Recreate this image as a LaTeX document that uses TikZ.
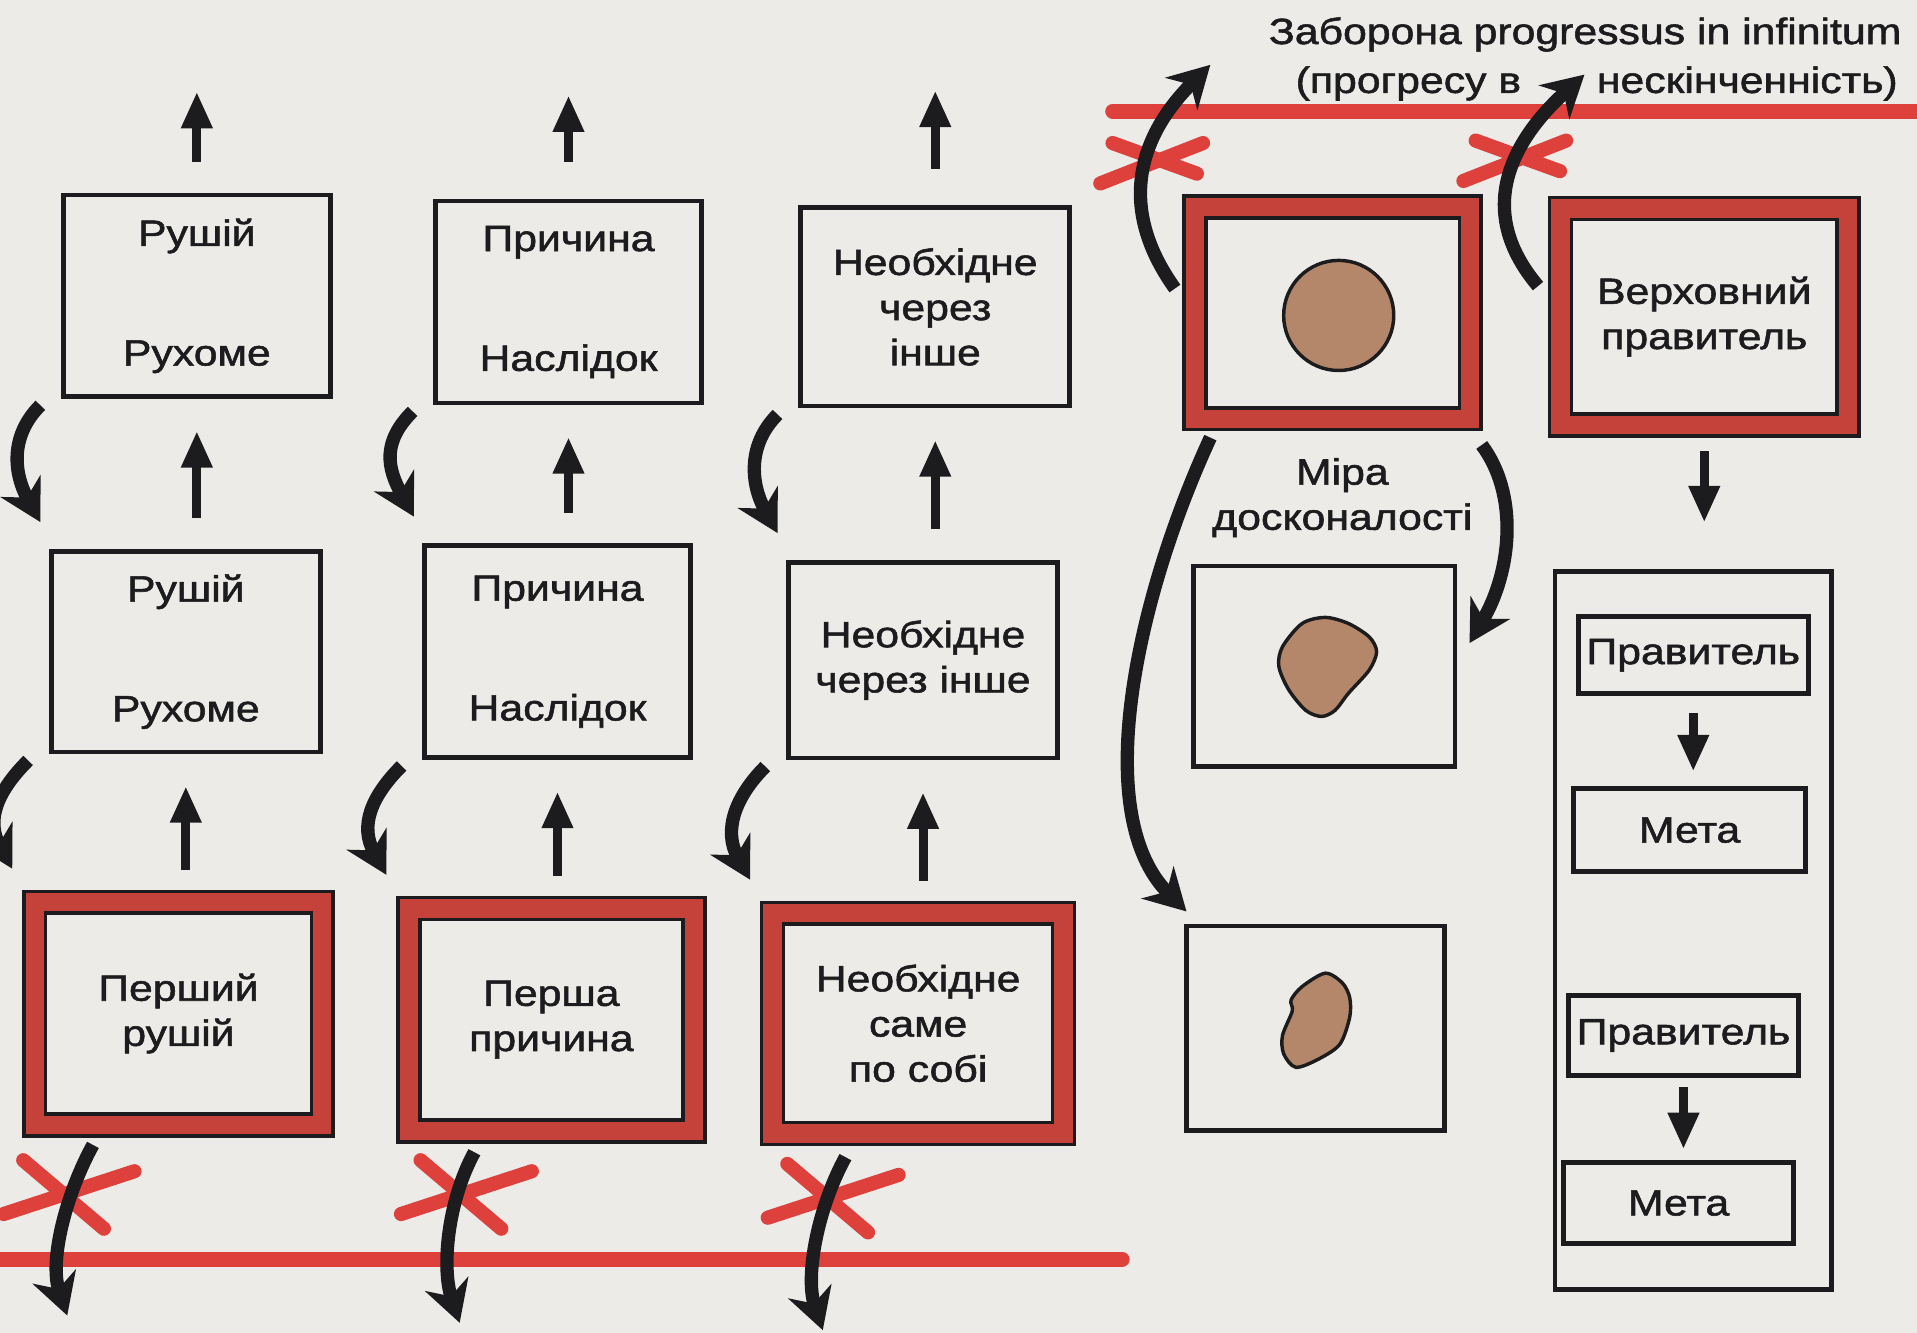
\documentclass[tikz,border=0pt]{standalone}
\usepackage{fontspec}
\setmainfont{Liberation Sans}[FakeStretch=1.17, FakeBold=1.5]
\usetikzlibrary{arrows.meta,calc}
\definecolor{paper}{RGB}{236,235,232}
\definecolor{banred}{RGB}{222,64,60}
\definecolor{framered}{RGB}{196,66,58}
\definecolor{stone}{RGB}{180,135,106}
\definecolor{ink}{RGB}{28,28,30}

\begin{document}
\begin{tikzpicture}[x=0.01cm, y=-0.01cm, >=latex,
	every node/.style={font=\fontsize{8.5}{10.5}\selectfont, text=ink},
	box/.style={draw=ink, line width=1.1pt, inner sep=0pt, align=center},
	dblbox/.style={box, line width=0.8pt, double=framered, double distance=4.3pt},
	uparr/.style={ink, line width=2.1pt, -{Triangle[length=8.5pt,width=6.8pt]}},
	bentarr/.style={ink, line width=3.1pt, -{Stealth[length=9.5pt,width=10.5pt,inset=3pt]}},
	barline/.style={banred, line width=3.4pt, line cap=round},
	stonefill/.style={draw=ink, line width=0.8pt, fill=stone},
	banx/.pic={\draw [banred, line width=3.3pt, line cap=round] (-36,-28) -- (30,28) (-52,16) -- (55,-19);},
	banxflat/.pic={\draw [banred, line width=3.3pt, line cap=round] (-32,-16) -- (37,9) (-42,17) -- (42,-16);}]
		\fill [paper] (0,0) rectangle (1568,1090);
		\useasboundingbox (0,0) rectangle (1568,1090);
		%1
		\node [box, minimum width=2.18cm, minimum height=1.65cm] (A1) at (161,242) {Рушій\\[0.61cm]Рухоме};
		\node [box, minimum width=2.20cm, minimum height=1.64cm] (A2) at (152,533) {Рушій\\[0.61cm]Рухоме};
		\node [dblbox, minimum width=2.35cm, minimum height=1.82cm] (A3) at (146,829) {Перший\\рушій};
		%2
		\node [box, minimum width=2.17cm, minimum height=1.65cm] (B1) at (465,247) {Причина\\[0.61cm]Наслідок};
		\node [box, minimum width=2.17cm, minimum height=1.73cm] (B2) at (456,533) {Причина\\[0.61cm]Наслідок};
		\node [dblbox, minimum width=2.33cm, minimum height=1.82cm] (B3) at (451,834) {Перша\\причина};
		%3
		\node [box, minimum width=2.20cm, minimum height=1.62cm] (C1) at (765,251) {Необхідне\\через\\інше};
		\node [box, minimum width=2.20cm, minimum height=1.60cm] (C2) at (755,540) {Необхідне\\через інше};
		\node [dblbox, minimum width=2.38cm, minimum height=1.80cm] (C3) at (751,837) {Необхідне\\саме\\по собі};
		%4
		\node [dblbox, minimum width=2.25cm, minimum height=1.73cm] (D1) at (1090,256) {};
		\node [circle, stonefill, minimum size=0.9cm, inner sep=0pt] (S1) at (1095,258) {};
		\node [align=center, inner sep=0pt] (M) at (1098,407) {Міра\\досконалості};
		\node [box, minimum width=2.14cm, minimum height=1.64cm] (D2) at (1083,545) {};
		\node [box, minimum width=2.11cm, minimum height=1.67cm] (D3) at (1076,841) {};
		\draw [stonefill, shift={(D2.center)}] plot [smooth cycle] coordinates {(-34,-16) (-18,-35) (1,-40) (20,-35) (37,-24) (43,-12) (37,3) (20,22) (9,36) (-2,41) (-15,36) (-29,19) (-37,0)};
		\draw [stonefill, shift={(D3.center)}] plot [smooth cycle] coordinates {(8,-45) (22,-37) (28,-25) (28,-9) (20,13) (3,25) (-16,32) (-26,21) (-27,6) (-19,-14) (-20,-23) (-11,-34)};
		%5
		\node [dblbox, minimum width=2.35cm, minimum height=1.77cm] (E1) at (1394,259) {Верховний\\правитель};
		\node [box, minimum width=2.26cm, minimum height=5.87cm] (F) at (1385,761) {};
		\node [box, minimum width=1.88cm, minimum height=0.63cm] (F1) at (1385,536) {Правитель};
		\node [box, minimum width=1.90cm, minimum height=0.68cm] (F2) at (1382,679) {Мета};
		\node [box, minimum width=1.88cm, minimum height=0.65cm] (F3) at (1377,847) {Правитель};
		\node [box, minimum width=1.88cm, minimum height=0.66cm] (F4) at (1373,984) {Мета};
		%Заборона
		\node [anchor=base east, inner sep=0pt] (T1) at (1556,36) {Заборона progressus in infinitum};
		\node [anchor=base east, inner sep=0pt] (T2) at (1553,76) {(прогресу в\hspace{0.62cm}нескінченність)};
		\draw [barline] (910,91) -- (1568,91);
		\draw [barline] (0,1030) -- (918,1030);
		\pic at (55,977) {banx};
		\pic at (380,977) {banx};
		\pic at (680,980) {banx};
		\pic at (942,133) {banxflat};
		\pic at (1239,131) {banxflat};
		%up
		\coordinate (A0) at (165,75);
		\coordinate (B0) at (468,78);
		\coordinate (C0) at (770,74);
		\draw [uparr, shorten <=0.25cm] (A1.north) -- (A1.north |- A0);
		\draw [uparr, shorten <=0.3cm] (B1.north) -- (B1.north |- B0);
		\draw [uparr, shorten <=0.3cm] (C1.north) -- (C1.north |- C0);
		\draw [uparr, shorten <=0.25cm, shorten >=0.26cm] (A1.south |- A2.north) -- (A1.south);
		\draw [uparr, shorten <=0.25cm, shorten >=0.26cm] (A2.south |- A3.north) -- (A2.south);
		\draw [uparr, shorten <=0.25cm, shorten >=0.26cm] (B1.south |- B2.north) -- (B1.south);
		\draw [uparr, shorten <=0.25cm, shorten >=0.26cm] (B2.south |- B3.north) -- (B2.south);
		\draw [uparr, shorten <=0.25cm, shorten >=0.26cm] (C1.south |- C2.north) -- (C1.south);
		\draw [uparr, shorten <=0.25cm, shorten >=0.26cm] (C2.south |- C3.north) -- (C2.south);
		%bent
		\draw [bentarr] ($(A1.south west)+(-17,5)$) .. controls +(-25,25) and +(-22,-40) .. ($(A2.north west)+(-7,-22)$);
		\draw [bentarr] ($(A2.south west)+(-17,5)$) .. controls +(-25,25) and +(-22,-40) .. ($(A3.north west)+(-17,-26)$);
		\draw [bentarr] ($(B1.south west)+(-17,5)$) .. controls +(-25,25) and +(-22,-40) .. ($(B2.north west)+(-7,-22)$);
		\draw [bentarr] ($(B2.south west)+(-17,5)$) .. controls +(-25,25) and +(-22,-40) .. ($(B3.north west)+(-17,-26)$);
		\draw [bentarr] ($(C1.south west)+(-17,5)$) .. controls +(-25,25) and +(-22,-40) .. ($(C2.north west)+(-7,-22)$);
		\draw [bentarr] ($(C2.south west)+(-17,5)$) .. controls +(-25,25) and +(-22,-40) .. ($(C3.north west)+(-17,-26)$);
		%down
		\coordinate (A4) at (55,1076);
		\coordinate (B4) at (376,1082);
		\coordinate (C4) at (673,1088);
		\draw [bentarr] ($(A3.south west)+(49,15)$) .. controls +(-22,40) and +(-15,-45) .. (A4);
		\draw [bentarr] ($(B3.south west)+(55,16)$) .. controls +(-22,40) and +(-15,-45) .. (B4);
		\draw [bentarr] ($(C3.south west)+(61,18)$) .. controls +(-22,40) and +(-15,-45) .. (C4);
		%right
		\coordinate (D0) at (990,53);
		\coordinate (E0) at (1296,61);
		\draw [bentarr] ($(D1.west)+(-15,-20)$) .. controls +(-50,-70) and +(-55,55) .. (D0);
		\draw [bentarr] ($(E1.west)+(-17,-25)$) .. controls +(-55,-65) and +(-55,50) .. (E0);
		\draw [bentarr] ($(D1.south west)+(14,14)$) .. controls +(-60,130) and +(-80,-80) .. ($(D3.north west)+(2,-10)$);
		\draw [bentarr] ($(D1.south east)+(8,20)$) .. controls +(30,40) and +(35,-60) .. ($(D2.east)+(10,-19)$);
		\draw [uparr, shorten <=0.2cm, shorten >=0.38cm] (E1.south) -- (E1.south |- F.north);
		\draw [uparr, shorten <=0.14cm, shorten >=0.12cm] (F1.south) -- (F1.south |- F2.north);
		\draw [uparr, shorten <=0.08cm, shorten >=0.09cm] (F3.south) -- (F3.south |- F4.north);
\end{tikzpicture}
\end{document}
